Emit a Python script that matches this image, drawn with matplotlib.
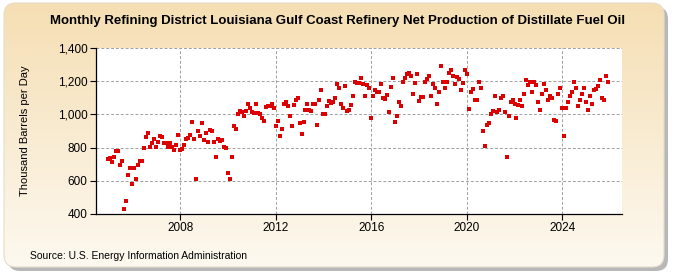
import numpy as np
import matplotlib
matplotlib.use("Agg")
import matplotlib.pyplot as plt
from matplotlib.patches import FancyBboxPatch
from matplotlib.ticker import FuncFormatter

plt.rcParams["font.family"] = ["Liberation Sans Narrow", "Liberation Sans", "DejaVu Sans"]

# Monthly values, thousand barrels per day, starting January 2005
start_year = 2005
production = [
    732, 736, 716, 742, 782, 780, 698, 722, 428, 478, 637, 680,        # 2005
    583, 680, 613, 696, 720, 720, 800, 866, 890, 804, 826, 850,        # 2006
    804, 834, 870, 866, 826, 830, 802, 826, 806, 786, 814, 877,        # 2007
    786, 794, 816, 850, 860, 877, 955, 850, 611, 900, 870, 950,        # 2008
    847, 887, 836, 907, 903, 836, 746, 851, 837, 843, 806, 800,        # 2009
    650, 613, 746, 931, 915, 1000, 1020, 1012, 992, 1020, 1060, 1036,  # 2010
    1012, 1008, 1064, 1008, 1004, 976, 963, 1044, 1048, 1052, 1060, 1036,  # 2011
    931, 963, 867, 915, 1064, 1072, 1048, 988, 931, 1056, 1084, 1100,  # 2012
    947, 883, 955, 1024, 1064, 1024, 1020, 1064, 1064, 935, 1084, 1148,  # 2013
    1000, 1000, 1048, 1080, 1068, 1072, 1100, 1181, 1157, 1064, 1040, 1173,  # 2014
    1020, 1024, 1056, 1108, 1197, 1189, 1187, 1221, 1185, 1113, 1177, 1157,  # 2015
    976, 1112, 1149, 1133, 1133, 1181, 1100, 1092, 1116, 1016, 1165, 1217,  # 2016
    956, 992, 1076, 1052, 1197, 1217, 1241, 1249, 1229, 1124, 1189, 1241,  # 2017
    1080, 1104, 1104, 1193, 1213, 1229, 1108, 1181, 1161, 1064, 1133, 1293,  # 2018
    1197, 1161, 1197, 1249, 1269, 1233, 1185, 1225, 1213, 1149, 1189, 1265,  # 2019
    1245, 1032, 1133, 1153, 1088, 1088, 1193, 1157, 903, 811, 939, 951,  # 2020
    1000, 1020, 1112, 1016, 1024, 1100, 1108, 1016, 746, 992, 1076, 1084,  # 2021
    1064, 980, 1056, 1088, 1048, 1120, 1209, 1177, 1193, 1136, 1197, 1177,  # 2022
    1076, 1024, 1120, 1181, 1145, 1084, 1112, 1096, 967, 963, 1124, 1161,  # 2023
    1040, 871, 1040, 1072, 1108, 1132, 1197, 1157, 1052, 1088, 1124, 1161,  # 2024
    1072, 1028, 1112, 1060, 1145, 1153, 1169, 1205, 1100, 1088, 1229, 1193,  # 2025
]
x_ticks = [2008, 2012, 2016, 2020, 2024]
y_ticks = [400, 600, 800, 1000, 1200, 1400]

title = "Monthly Refining District Louisiana Gulf Coast Refinery Net Production of Distillate Fuel Oil"
ylabel = "Thousand Barrels per Day"
source = "Source: U.S. Energy Information Administration"

years = start_year + np.arange(len(production)) / 12.0

fig = plt.figure(figsize=(6.75, 2.75), dpi=100)
fig.patch.set_facecolor("white")

# background panel with shadow and vertical gradient
bg = fig.add_axes([0, 0, 1, 1])
bg.set_xlim(0, 675)
bg.set_ylim(275, 0)
bg.axis("off")
shadow = FancyBboxPatch((8, 7), 660, 264, boxstyle="round,pad=0,rounding_size=12",
                        facecolor="#b8b8b8", edgecolor="none", zorder=0)
bg.add_patch(shadow)
panel = FancyBboxPatch((4, 3), 660, 264, boxstyle="round,pad=0,rounding_size=12",
                       facecolor="none", edgecolor="#e6dccb", lw=0.8, zorder=2)
bg.add_patch(panel)
top_c = np.array([245, 222, 179]) / 255
bot_c = np.array([253, 249, 240]) / 255
t = np.linspace(0, 1, 256)[:, None]
grad = (top_c[None, :] * (1 - t) + bot_c[None, :] * t)[:, None, :]
img = bg.imshow(grad, extent=(4, 664, 267, 3), aspect="auto", zorder=1)
img.set_clip_path(panel)

ax = fig.add_axes([96 / 675, 1 - 214 / 275, (622 - 96) / 675, (214 - 48) / 275])
ax.set_facecolor("white")
ax.scatter(years, production, marker="s", s=11, color="#dd0000", linewidths=0, zorder=3)

ax.set_xlim(2004.48, 2026.5)
ax.set_ylim(400, 1400)
ax.set_xticks(x_ticks)
ax.set_yticks(y_ticks)
ax.yaxis.set_major_formatter(FuncFormatter(lambda v, p: f"{int(v):,}"))
ax.grid(True, color="#a0a0a0", linestyle=(0, (3, 2)), linewidth=0.7)
ax.set_axisbelow(True)
for s in ["top", "right"]:
    ax.spines[s].set_visible(False)
for s in ["left", "bottom"]:
    ax.spines[s].set_color("black")
    ax.spines[s].set_linewidth(0.9)
ax.tick_params(axis="both", labelsize=8.5, length=4, width=0.8, color="black", pad=2)
ax.set_ylabel(ylabel, fontsize=8)
ax.yaxis.set_label_coords(-0.125, 0.5)

fig.text(0.5, 1 - 21 / 275, title, ha="center", va="center", fontsize=9.5,
         fontweight="bold")
fig.text(30 / 675, 1 - 256 / 275, source, ha="left", va="center", fontsize=7.5)

fig.savefig("out.png", dpi=100)
